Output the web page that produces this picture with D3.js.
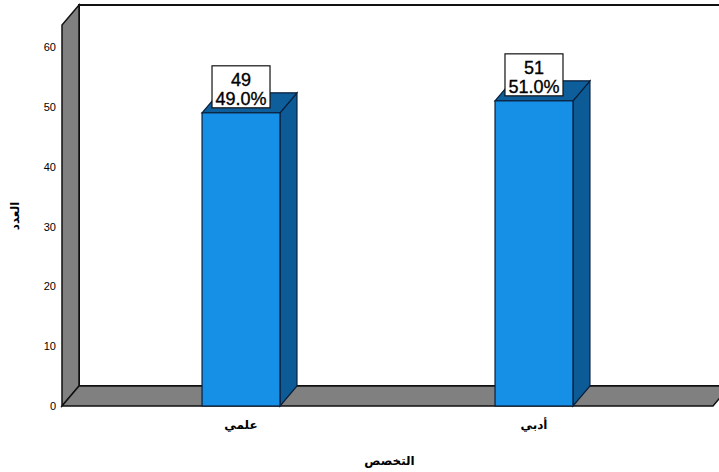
<!DOCTYPE html>
<html>
<head>
<meta charset="utf-8">
<script src="https://cdn.jsdelivr.net/npm/d3@7"></script>
<style>
  body { margin: 0; background: #fff; }
  svg text { font-family: "Liberation Sans", Arial, "DejaVu Sans", sans-serif; }
</style>
</head>
<body>
<svg id="chart" width="719" height="472"></svg>
<script>
// data
var categories = ["علمي", "أدبي"];
var counts = [49, 51];
var percents = ["49.0%", "51.0%"];
var yTicks = [0, 10, 20, 30, 40, 50, 60];

var W = 719, H = 472;
var left = 62, right = 713, bottom = 406;
var dx = 17, dy = -20;   // depth of the 3d box
var wallTop = 25;

var svg = d3.select("#chart");

var x = d3.scaleBand()
  .domain(categories)
  .range([left, right])
  .paddingInner(0.734)
  .paddingOuter(0.478);

var y = d3.scaleLinear()
  .domain([0, 60])
  .range([bottom, 47]);

var gray = "#808080", stroke = "#111";

// back wall
svg.append("rect")
  .attr("x", left + dx).attr("y", wallTop + dy)
  .attr("width", right + 40 - left).attr("height", bottom - wallTop)
  .attr("fill", "#fff").attr("stroke", stroke).attr("stroke-width", 2);

// left wall
svg.append("path")
  .attr("d", d3.line()([[left, bottom], [left, wallTop], [left + dx, wallTop + dy], [left + dx, bottom + dy]]) + "Z")
  .attr("fill", gray).attr("stroke", stroke).attr("stroke-width", 1.5);

// floor
svg.append("path")
  .attr("d", d3.line()([[left, bottom], [right, bottom], [right + dx, bottom + dy], [left + dx, bottom + dy]]) + "Z")
  .attr("fill", gray).attr("stroke", stroke).attr("stroke-width", 1.5);

// y tick labels
svg.append("g").selectAll("text")
  .data(yTicks)
  .join("text")
  .attr("x", 56)
  .attr("y", function (d) { return y(d) + 4; })
  .attr("text-anchor", "end")
  .attr("font-size", 11)
  .attr("fill", "#000")
  .text(function (d) { return d; });

// bars
var bars = svg.append("g").selectAll("g")
  .data(counts)
  .join("g");

bars.append("path")   // side
  .attr("d", function (d, i) {
    var x1 = x(categories[i]) + x.bandwidth(), yt = y(d);
    return d3.line()([[x1, yt], [x1 + dx, yt + dy], [x1 + dx, bottom + dy], [x1, bottom]]) + "Z";
  })
  .attr("fill", "#0d5b96").attr("stroke", "#0a1f3a").attr("stroke-width", 1.2);

bars.append("path")   // top
  .attr("d", function (d, i) {
    var x0 = x(categories[i]), x1 = x0 + x.bandwidth(), yt = y(d);
    return d3.line()([[x0, yt], [x1, yt], [x1 + dx, yt + dy], [x0 + dx, yt + dy]]) + "Z";
  })
  .attr("fill", "#0e5e9c").attr("stroke", "#0a1f3a").attr("stroke-width", 1.2);

bars.append("rect")   // front
  .attr("x", function (d, i) { return x(categories[i]); })
  .attr("y", function (d) { return y(d); })
  .attr("width", x.bandwidth())
  .attr("height", function (d) { return bottom - y(d); })
  .attr("fill", "#1590e6").attr("stroke", "#0a1f3a").attr("stroke-width", 1.2);

// value labels
var lab = bars.append("g")
  .attr("transform", function (d, i) {
    return "translate(" + (x(categories[i]) + x.bandwidth() / 2) + "," + (y(d) - 47) + ")";
  });
lab.append("rect")
  .attr("x", -29).attr("y", 0).attr("width", 58).attr("height", 42)
  .attr("fill", "#fff").attr("stroke", "#111").attr("stroke-width", 1.2);
lab.selectAll("text")
  .data(function (d, i) { return [d, percents[i]]; })
  .join("text")
  .attr("y", function (t, j) { return 20 + j * 19; })
  .attr("text-anchor", "middle").attr("font-size", 18).attr("fill", "#000")
  .attr("stroke", "#000").attr("stroke-width", 0.35)
  .text(function (t) { return t; });

// x category labels
svg.append("g").selectAll("text")
  .data(categories)
  .join("text")
  .attr("x", function (d) { return x(d) + x.bandwidth() / 2; })
  .attr("y", 429)
  .attr("text-anchor", "middle")
  .attr("font-size", 12).attr("font-weight", "bold")
  .attr("direction", "rtl")
  .text(function (d) { return d; });

// axis titles
svg.append("text")
  .attr("x", (left + right) / 2 + 2).attr("y", 465)
  .attr("text-anchor", "middle")
  .attr("font-size", 12).attr("font-weight", "bold")
  .text("التخصص");

svg.append("text")
  .attr("transform", "translate(19,216) rotate(-90)")
  .attr("text-anchor", "middle")
  .attr("font-size", 12).attr("font-weight", "bold")
  .text("العدد");
</script>
</body>
</html>
